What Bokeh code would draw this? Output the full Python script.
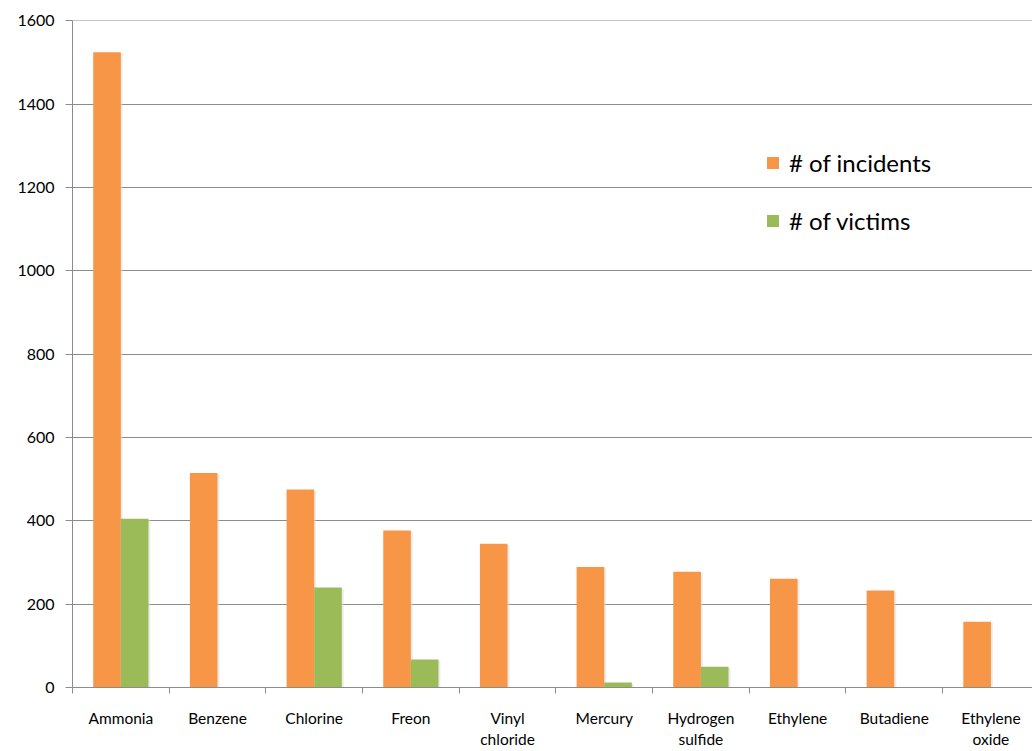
from bokeh.plotting import figure
from bokeh.models import ColumnDataSource, FixedTicker, Legend, LegendItem
from bokeh.embed import file_html
from bokeh.resources import INLINE

chemicals = ["Ammonia", "Benzene", "Chlorine", "Freon", "Vinyl\nchloride",
             "Mercury", "Hydrogen\nsulfide", "Ethylene", "Butadiene", "Ethylene\noxide"]
incidents = [1525, 515, 475, 377, 345, 289, 278, 261, 233, 158]
victims = [405, 0, 240, 67, 0, 12, 50, 0, 0, 0]
y_ticks = [0, 200, 400, 600, 800, 1000, 1200, 1400, 1600]

ORANGE = "#F79646"
GREEN = "#9BBB59"
GRID = "#8c8c8c"
FONT = "Lato"

n = len(chemicals)
centers = [i + 0.5 for i in range(n)]
bar_w = 1 / 3.5  # 150% gap between groups

x_inc = [c - bar_w / 2 for c in centers]
x_vic = [c + bar_w / 2 for c in centers]
src = ColumnDataSource(dict(x_inc=x_inc, x_vic=x_vic, inc=incidents, vic=victims))

p = figure(width=1032, height=751, output_backend="svg", toolbar_location=None,
           x_range=(0, 9.93), y_range=(0, 1601),
           min_border_left=72, min_border_right=0, min_border_top=20, min_border_bottom=64)
p.outline_line_color = None
p.background_fill_color = "white"

# soft drop shadow behind the bars
p.vbar(x=[v + 0.02 for v in x_inc], top=[max(t - 3, 0) for t in incidents],
       bottom=0, width=bar_w, fill_color="#d9d9d9", fill_alpha=0.5, line_color=None)
p.vbar(x=[v + 0.02 for v in x_vic], top=[max(t - 3, 0) for t in victims],
       bottom=0, width=bar_w, fill_color="#d9d9d9", fill_alpha=0.5, line_color=None)

r_inc = p.vbar(x="x_inc", top="inc", width=bar_w, source=src, fill_color=ORANGE, line_color=None)
r_vic = p.vbar(x="x_vic", top="vic", width=bar_w, source=src, fill_color=GREEN, line_color=None)

# y axis
p.yaxis.ticker = FixedTicker(ticks=y_ticks)
p.yaxis.axis_line_color = GRID
p.yaxis.major_tick_line_color = GRID
p.yaxis.major_tick_out = 7
p.yaxis.major_tick_in = 0
p.yaxis.minor_tick_line_color = None
p.yaxis.major_label_text_font = FONT
p.yaxis.major_label_text_font_size = "16px"
p.yaxis.major_label_text_color = "black"
p.yaxis.major_label_standoff = 11

# x axis: labels at category centres, tick marks at category boundaries
p.xaxis.ticker = FixedTicker(ticks=centers, minor_ticks=list(range(n + 1)))
p.xaxis.major_label_overrides = {c: lab for c, lab in zip(centers, chemicals)}
p.xaxis.axis_line_color = GRID
p.xaxis.major_tick_line_color = None
p.xaxis.minor_tick_line_color = GRID
p.xaxis.minor_tick_out = 6
p.xaxis.minor_tick_in = 0
p.xaxis.major_label_text_font = FONT
p.xaxis.major_label_text_font_size = "15.5px"
p.xaxis.major_label_text_color = "black"
p.xaxis.major_label_standoff = 15

p.xgrid.grid_line_color = None
p.ygrid.ticker = FixedTicker(ticks=y_ticks)
p.ygrid.grid_line_color = GRID
p.ygrid.grid_line_width = 1

legend = Legend(items=[LegendItem(label="# of incidents", renderers=[r_inc]),
                       LegendItem(label="# of victims", renderers=[r_vic])],
                location=(693, 452), orientation="vertical")
legend.background_fill_alpha = 0
legend.border_line_color = None
legend.label_text_font = FONT
legend.label_text_font_size = "24px"
legend.label_text_color = "black"
legend.glyph_width = 15
legend.glyph_height = 15
legend.label_height = 30
legend.spacing = 28
legend.padding = 0
legend.margin = 0
legend.label_standoff = 9
p.add_layout(legend)

open("out.html", "w").write(file_html(p, INLINE))
